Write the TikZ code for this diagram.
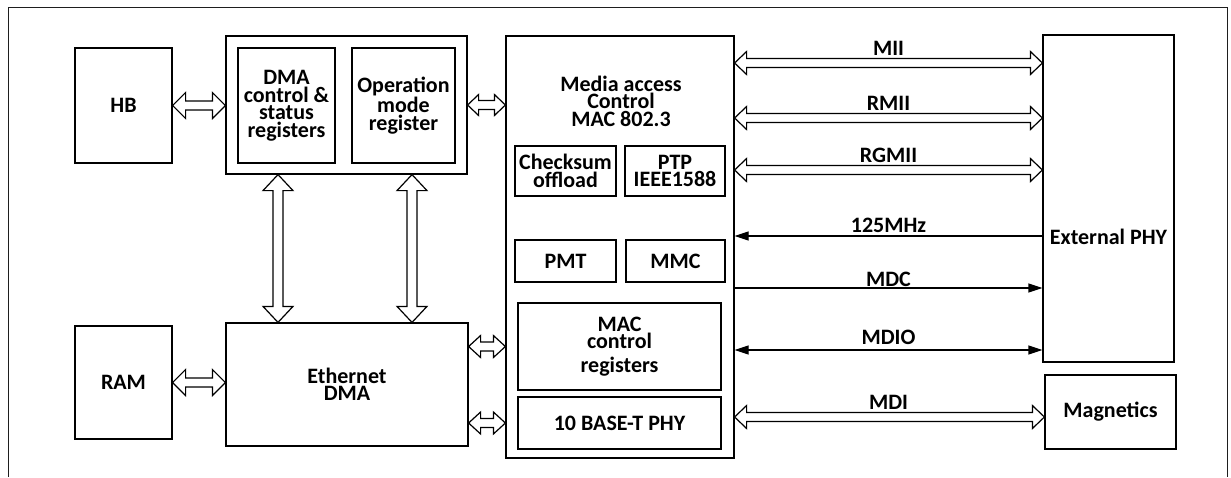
\documentclass[tikz,border=0pt]{standalone}
\usepackage{fontspec}
\setmainfont{Carlito}
\usetikzlibrary{arrows.meta,positioning,calc}
\definecolor{ink}{HTML}{000000}
\definecolor{ink2}{HTML}{1E1E1E}
\tikzset{
  >={Triangle[length=14pt,width=9pt]},
  every picture/.style={line join=miter},
  txt/.style={font=\fontsize{22}{17.5}\selectfont\bfseries, text=ink, align=center},
  blk/.style 2 args={draw=ink, fill=white, line width=1.2pt, inner sep=0pt, txt,
    minimum width=#1pt, minimum height=#2pt},
  wire/.style={draw=ink, line width=1.2pt},
  bus/.style={draw=ink, fill=white, line width=1.2pt},
  bus size/.code args={#1/#2/#3}{\def\bs{#1pt}\def\bh{#2pt}\def\bl{#3pt}},
  bus size=4.5/11.5/12,
  lbl/.style={txt, anchor=base, inner sep=0pt},
  framel/.style={draw=ink2, line width=1pt},
}
% hollow double arrow, left to right
\newcommand{\hbus}[3][]{%
  \draw[bus,#1] let \p1=(#2), \p2=(#3) in
    (\x1,\y1) -- ++(\bl,\bh) -- ++(0pt,\bs-\bh) -- (\x2-\bl,\y1+\bs) -- ++(0pt,\bh-\bs)
    -- (\x2,\y1) -- ++(-\bl,-\bh) -- ++(0pt,\bh-\bs) -- (\x1+\bl,\y1-\bs)
    -- ++(0pt,\bs-\bh) -- cycle;}
% hollow double arrow, top to bottom
\newcommand{\vbus}[3][]{%
  \draw[bus,#1] let \p1=(#2), \p2=(#3) in
    (\x1,\y1) -- ++(\bh,-\bl) -- ++(\bs-\bh,0pt) -- (\x1+\bs,\y2+\bl) -- ++(\bh-\bs,0pt)
    -- (\x1,\y2) -- ++(-\bh,\bl) -- ++(\bh-\bs,0pt) -- (\x1-\bs,\y1-\bl)
    -- ++(\bs-\bh,0pt) -- cycle;}

\begin{document}
\begin{tikzpicture}[x=1pt,y=-1pt]
  \useasboundingbox (0,0) rectangle (1231,477);
  \draw[framel] (8,477) -- (8,7) -- (1227,7) -- (1227,477);

  % =================== host side ===================
  \node[blk={97}{115}] (hb) at (123.5,105.5) {HB};
  \node[blk={97}{113}] (ram) at (123.5,382.5) {RAM};
  \node[blk={241}{138}] (grp) at (346.5,105) {};
  \node[blk={97}{115}] (dmacsr) at (286.5,105.5) {DMA\\control \&\\status\\registers};
  \node[blk={103}{115}] (opmode) at (403.5,105.5) {Operation\\mode\\register};
  \node[blk={242}{123}] (edma) at (347,384.5) {Ethernet\\DMA};

  % =================== MAC ===================
  \node[blk={228}{422}] (mac) at (620,247) {};
  \node[txt] (mactitle) at (621,101) {Media access\\Control\\MAC 802.3};
  \node[blk={101}{50}] (cks) at (565.5,171) {Checksum\\offload};
  \node[blk={100}{50}] (ptp) at (675,171) {PTP\\IEEE1588};
  \node[blk={101}{42}] (pmt) at (565.5,261) {PMT};
  \node[blk={99}{42}] (mmc) at (675.5,261) {MMC};
  \node[blk={203}{87}] (macreg) at (619.5,346.5) {MAC\\control\\[6pt]registers};
  \node[blk={203}{52}] (tenbt) at (619.5,423) {10 BASE-T PHY};

  % =================== PHY side ===================
  \node[blk={131}{327}, label={[txt, yshift=-38pt]center:External PHY}] (extphy) at (1108.5,198.5) {};
  \node[blk={131}{74}] (magn) at (1110.5,412) {Magnetics};

  % host buses
  \hbus[bus size=4.5/13/13]{hb.east}{hb.east -| grp.west}
  \hbus[bus size=4.5/13/13]{ram.east}{ram.east -| edma.west}
  \hbus[bus size=4.5/10.5/11]{grp.east}{grp.east -| mac.west}
  \hbus[bus size=4.5/11/12]{macreg.west -| edma.east}{macreg.west -| mac.west}
  \hbus[bus size=4.5/11/12]{tenbt.west -| edma.east}{tenbt.west -| mac.west}
  \coordinate (lnk1) at (278,0);
  \coordinate (lnk2) at (412,0);
  \vbus[bus size=5/15/16]{lnk1 |- grp.south}{lnk1 |- edma.north}
  \vbus[bus size=5/15/16]{lnk2 |- grp.south}{lnk2 |- edma.north}

  % MAC to PHY lines
  \foreach \n/\y in {mii/63,rmii/118,rgmii/170,clk/236,mdc/288,mdio/350,mdi/417}{
    \coordinate (\n) at (mac.east |- 0,\y);
    \coordinate (\n-p) at (extphy.west |- 0,\y);}
  \hbus{mii}{mii-p}
  \hbus{rmii}{rmii-p}
  \hbus{rgmii}{rgmii-p}
  \foreach \n/\t in {mii/MII,rmii/RMII,rgmii/RGMII,mdi/MDI}{
    \node[lbl, yshift=8pt] at ($(\n)!0.5!(\n-p)$) {\t};}
  \draw[wire,<-] (clk) -- (clk-p) node[lbl, midway, yshift=4pt] {125MHz};
  \draw[wire,->] (mdc) -- (mdc-p) node[lbl, midway, yshift=1.5pt] {MDC};
  \draw[wire,<->] (mdio) -- (mdio-p) node[lbl, midway, yshift=6pt] {MDIO};
  \coordinate (mdi-m) at (magn.west |- mdi);
  \hbus{mdi}{mdi-m}
\end{tikzpicture}
\end{document}
